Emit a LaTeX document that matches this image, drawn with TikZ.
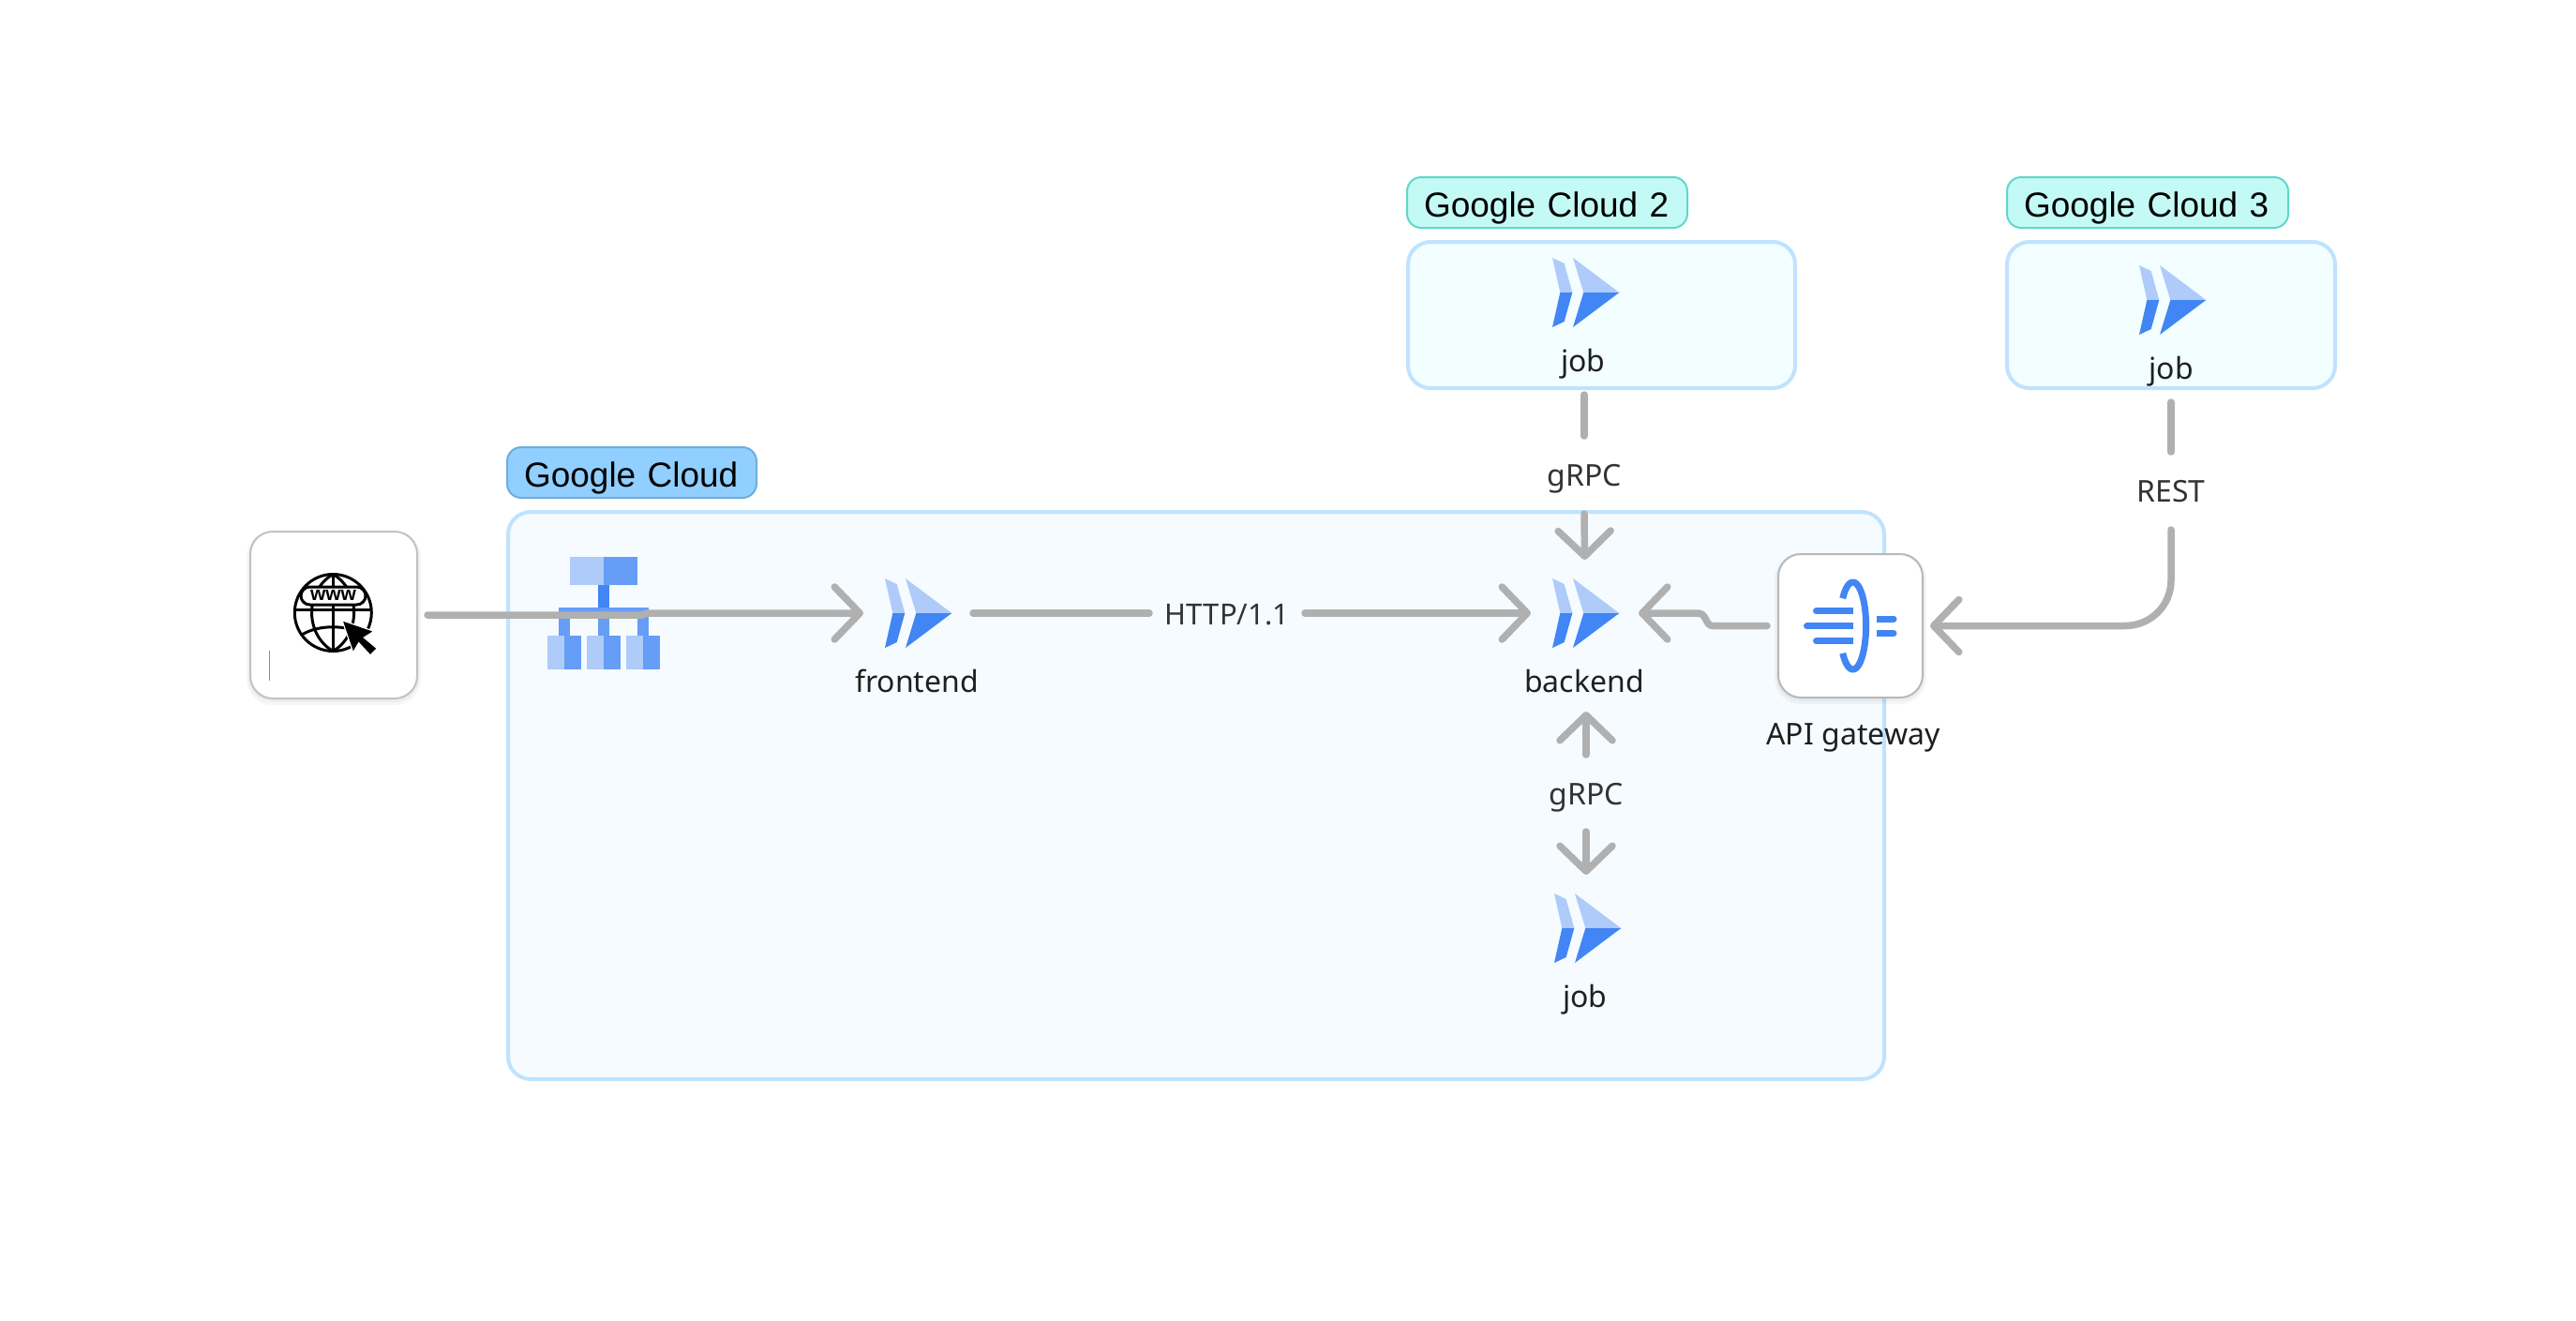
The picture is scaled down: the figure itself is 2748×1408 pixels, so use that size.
\documentclass[tikz,border=0pt]{standalone}
\usepackage{fontspec}
\setmainfont{Noto Sans}
\newfontfamily\tagfont{Liberation Sans}
\usetikzlibrary{arrows.meta,calc}
\definecolor{runlight}{HTML}{AECBFA}
\definecolor{runmid}{HTML}{669DF6}
\definecolor{rundark}{HTML}{4285F4}
\definecolor{conn}{HTML}{B0B0B0}
\definecolor{grpline}{HTML}{BFE3FF}
\definecolor{mainfill}{HTML}{F5FBFF}
\definecolor{sidefill}{HTML}{F2FEFF}
\definecolor{tagblue}{HTML}{90CFFF}
\definecolor{tagblueline}{HTML}{6FADDB}
\definecolor{tagteal}{HTML}{C4FAF5}
\definecolor{tagtealline}{HTML}{5FD8CB}
\definecolor{nodetext}{HTML}{1F1F1F}
\definecolor{labeltext}{HTML}{333333}
\tikzset{
  x=1pt,y=-1pt,
  grpbox/.style={draw=grpline,line width=4pt,rounded corners=24pt,anchor=north west,inner sep=0pt,outer sep=0pt},
  tagbox/.style={line width=2pt,rounded corners=15pt,anchor=north west,inner sep=0pt,outer sep=0pt,inner xsep=18pt,align=left,
    font=\tagfont\fontsize{37}{40}\selectfont,text=black,text height=34pt,text depth=4pt,minimum height=54pt},
  cardbox/.style={draw=#1,fill=white,line width=2pt,rounded corners=24pt,inner sep=0pt,outer sep=0pt,
    preaction={draw=black,draw opacity=.035,line width=8pt,transform canvas={yshift=-3pt}},
    preaction={draw=black,draw opacity=.03,line width=4pt,transform canvas={yshift=-2pt}}},
  anchorbox/.style={inner sep=0pt,outer sep=0pt},
  nodelabel/.style={anchor=base,inner sep=0pt,text=nodetext,font=\fontsize{32}{38}\selectfont},
  conlabel/.style={inner sep=0pt,outer sep=0pt,text=labeltext,font=\fontsize{32}{38}\selectfont,text height=25pt,text depth=1pt},
  conline/.style={draw=conn,line width=7.5pt,line cap=round,line join=round},
  conarrow/.style={conline,-{Straight Barb[length=27pt,width=56pt,round,line width=7.5pt]}},
  runicon/.pic={
    \fill[runlight] (0,-37) -- (12.7,-31) -- (21.3,0) -- (8.3,0) -- cycle;
    \fill[rundark] (8.3,0) -- (21.3,0) -- (12.7,31) -- (0,37) -- cycle;
    \fill[runlight] (22,-37) -- (71.3,0) -- (33.3,0) -- cycle;
    \fill[rundark] (33.3,0) -- (71.3,0) -- (22,37) -- cycle;
  }
}
\begin{document}
\begin{tikzpicture}
\useasboundingbox[fill=white] (0,0) rectangle (2748,1408);

% group frames
\node[grpbox,fill=mainfill,minimum width=1468pt,minimum height=605pt] (gcmain) at (542,546) {};
\node[tagbox,fill=tagblue,draw=tagblueline,minimum width=266pt,text width=230pt] (tagmain) at (541,477) {Google Cloud};
\node[grpbox,fill=sidefill,minimum width=413pt,minimum height=156pt] (gctwo) at (1502,258) {};
\node[tagbox,fill=tagteal,draw=tagtealline,minimum width=299pt,text width=263pt] (tagtwo) at (1501,189) {Google Cloud 2};
\node[grpbox,fill=sidefill,minimum width=350pt,minimum height=156pt] (gcthree) at (2141,258) {};
\node[tagbox,fill=tagteal,draw=tagtealline,minimum width=300pt,text width=264pt] (tagthree) at (2141,189) {Google Cloud 3};

% load balancer icon
\fill[runlight] (608,594) rectangle (644,624);
\fill[runmid] (644,594) rectangle (680,624);
\fill[rundark] (638,624) rectangle (650,648);
\fill[runmid] (596,648) rectangle (692,660);
\fill[runmid] (596,660) rectangle (608,678);
\fill[runmid] (638,660) rectangle (650,678);
\fill[runmid] (680,660) rectangle (692,678);
\fill[runlight] (584,678) rectangle (602,714);
\fill[runmid] (602,678) rectangle (620,714);
\fill[runlight] (626,678) rectangle (644,714);
\fill[runmid] (644,678) rectangle (662,714);
\fill[runlight] (668,678) rectangle (686,714);
\fill[runmid] (686,678) rectangle (704,714);

% browser card
\node[cardbox=black!24,minimum width=178pt,minimum height=178pt] (browser) at (356,656) {};
\draw[black!45,line width=1pt] (287,694) -- (287,726);
\begin{scope}[black,line width=3pt]
  \draw (355.3,653.5) circle[radius=41pt];
  \draw (355.3,612.5) .. controls (325,630) and (325,677) .. (355.3,694.5);
  \draw (355.3,612.5) .. controls (385,630) and (385,677) .. (355.3,694.5);
  \draw (355.3,612.5) -- (355.3,694.5);
  \draw (315,650) -- (396,650);
  \draw (322,677) .. controls (340,666) and (370,666) .. (388,677);
  \draw[fill=white,rounded corners=9.5pt] (321,626) rectangle (390,645);
\end{scope}
\node[inner sep=0pt,font=\tagfont\bfseries\fontsize{21}{22}\selectfont] (www) at (355.5,635) {www};
\fill[black,draw=white,line width=1.2pt] (365,661.7) -- (399,673.3) -- (388.3,680) -- (402.3,691.7) -- (395,699) -- (382.7,685.7) -- (376.7,696) -- cycle;

% run icons
\pic at (944,654) {runicon};
\pic at (1656,654) {runicon};
\pic at (1658,990) {runicon};
\pic at (1656,312) {runicon};
\pic at (2282,320) {runicon};

% invisible anchors for connectors
\node[anchorbox,minimum width=117pt,minimum height=54pt] (frontend) at (979.5,654) {};
\node[anchorbox,minimum width=115pt,minimum height=114pt] (backend) at (1690.5,654) {};
\coordinate (backendbelow) at (1692,759);
\node[anchorbox,minimum width=70pt,minimum height=114pt] (jobmain) at (1692,990) {};
\node[anchorbox,minimum width=70pt,minimum height=218pt] (jobtwo) at (1690,312) {};
\node[anchorbox,minimum width=70pt,minimum height=218pt] (jobthree) at (2316,320) {};

% node labels
\node[nodelabel] (frontendtext) at (978,738.5) {frontend};
\node[nodelabel] (backendtext) at (1690,738.5) {backend};
\node[nodelabel] (jobmaintext) at (1691,1074) {job};
\node[nodelabel] (jobtwotext) at (1689,396.7) {job};
\node[nodelabel] (jobthreetext) at (2316,404) {job};
\node[nodelabel] (apitext) at (1977,794) {API gateway};

% API gateway card
\node[cardbox=black!28,minimum width=154pt,minimum height=153pt] (api) at (1974,667.5) {};
\begin{scope}[rundark]
  \draw[line width=7pt] plot[domain=-141:141,samples=80,smooth] ({1976.6+14*cos(\x)},{667.5+46.5*sin(\x)});
  \draw[line width=7pt,line cap=round] (1937.5,651.7) -- (1970,651.7);
  \draw[line width=7pt] (1960,651.7) -- (1977,651.7);
  \draw[line width=7pt,line cap=round] (1927.5,667.7) -- (1970,667.7);
  \draw[line width=7pt] (1960,667.7) -- (1977,667.7);
  \draw[line width=7pt,line cap=round] (1937.5,683.7) -- (1970,683.7);
  \draw[line width=7pt] (1960,683.7) -- (1977,683.7);
  \draw[line width=7pt] (2002,660) -- (2015,660);
  \draw[line width=7pt,line cap=round] (2010,660) -- (2020,660);
  \draw[line width=7pt] (2002,675.7) -- (2015,675.7);
  \draw[line width=7pt,line cap=round] (2010,675.7) -- (2020,675.7);
\end{scope}

% connector labels
\node[conlabel,minimum width=166pt,font=\fontsize{31}{38}\selectfont] (http) at (1309,654) {HTTP/1.1};
\node[conlabel,minimum height=83pt] (grpctop) at (1690,506.5) {gRPC};
\node[conlabel,minimum height=82pt] (grpcbottom) at (1692,846) {gRPC};
\node[conlabel,minimum height=83pt] (rest) at (2316,523.5) {REST};

% connectors
\coordinate (lbjoin) at (690,654);
\draw[conarrow] ([xshift=11pt]browser.east) -- (685,656) -- (lbjoin) -- (frontend.west);
\draw[conline] (frontend.east) -- (http.west);
\draw[conarrow] (http.east) -- (backend.west);
\draw[conline] (jobtwo.south) -- (grpctop.north);
\draw[conarrow] (grpctop.south) -- (backend.north);
\draw[conarrow] (grpcbottom.north) -- (backendbelow);
\draw[conarrow] (grpcbottom.south) -- (jobmain.north);
\draw[conline] (jobthree.south) -- (rest.north);
\draw[conarrow] (rest.south) -- (2316,619) .. controls (2316,646) and (2294,667.5) .. (2267,667.5) -- ([xshift=8pt]api.east);
\draw[conarrow] ([xshift=-12pt]api.west) -- (1827,667.5) .. controls (1819,667.5) and (1821,654) .. (1811,654) -- (backend.east);
\end{tikzpicture}
\end{document}
